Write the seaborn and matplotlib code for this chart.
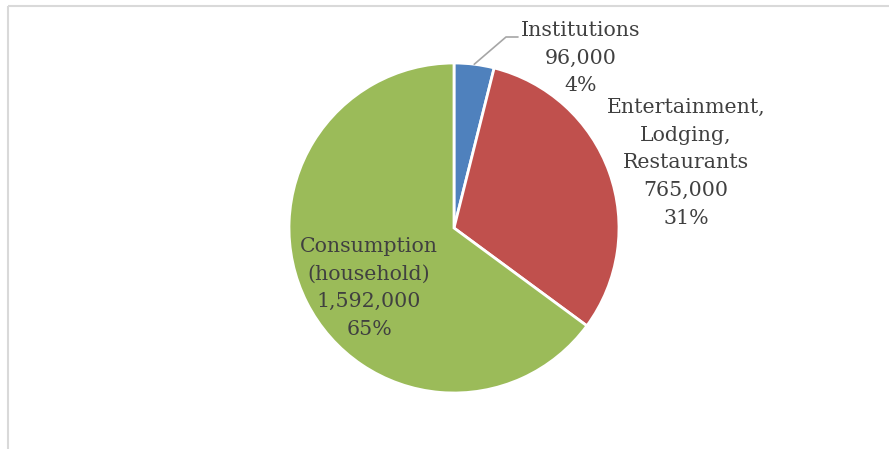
import numpy as np
import matplotlib
matplotlib.use("Agg")
import matplotlib.pyplot as plt
import seaborn as sns

categories = ["Institutions", "Entertainment,\nLodging,\nRestaurants", "Consumption\n(household)"]
values = [96000, 765000, 1592000]
colors = ["#4f81bd", "#c0504d", "#9bbb59"]

sns.set_theme(style="white")
plt.rcParams["font.family"] = ["DejaVu Serif"]

W, H = 889, 449
fig = plt.figure(figsize=(W / 100, H / 100), dpi=100)
ax = fig.add_axes([0, 0, 1, 1])
ax.set_xlim(0, W)
ax.set_ylim(0, H)
ax.set_aspect("equal")
ax.axis("off")

# chart frame (top and left edges)
frame_kw = dict(color="#d9d9d9", lw=1.5, solid_capstyle="butt")
ax.plot([7.5, W], [H - 5.5, H - 5.5], **frame_kw)
ax.plot([7.5, 7.5], [0, H - 5.5], **frame_kw)

cx, cy, r = 454, H - 228, 165
wedges, _ = ax.pie(values, colors=colors, startangle=90, counterclock=False,
                   center=(cx, cy), radius=r,
                   wedgeprops=dict(edgecolor="white", linewidth=2))
ax.set_xlim(0, W)
ax.set_ylim(0, H)

total = sum(values)
labels = [f"{c}\n{v:,}\n{round(100 * v / total)}%" for c, v in zip(categories, values)]
label_pos = [(581, H - 58), (686, H - 163), (369, H - 288)]
text_kw = dict(ha="center", va="center", color="#404040", fontsize=14.8,
               linespacing=1.58)
for lab, (x, y) in zip(labels, label_pos):
    ax.text(x, y, lab, **text_kw)

# leader line for the small slice
w0 = wedges[0]
mid = np.deg2rad((w0.theta1 + w0.theta2) / 2)
px, py = cx + r * np.cos(mid), cy + r * np.sin(mid)
ax.plot([px, 506, 518], [py, H - 37, H - 37], color="#a6a6a6", lw=1.2)

fig.savefig("out.png", dpi=100)
